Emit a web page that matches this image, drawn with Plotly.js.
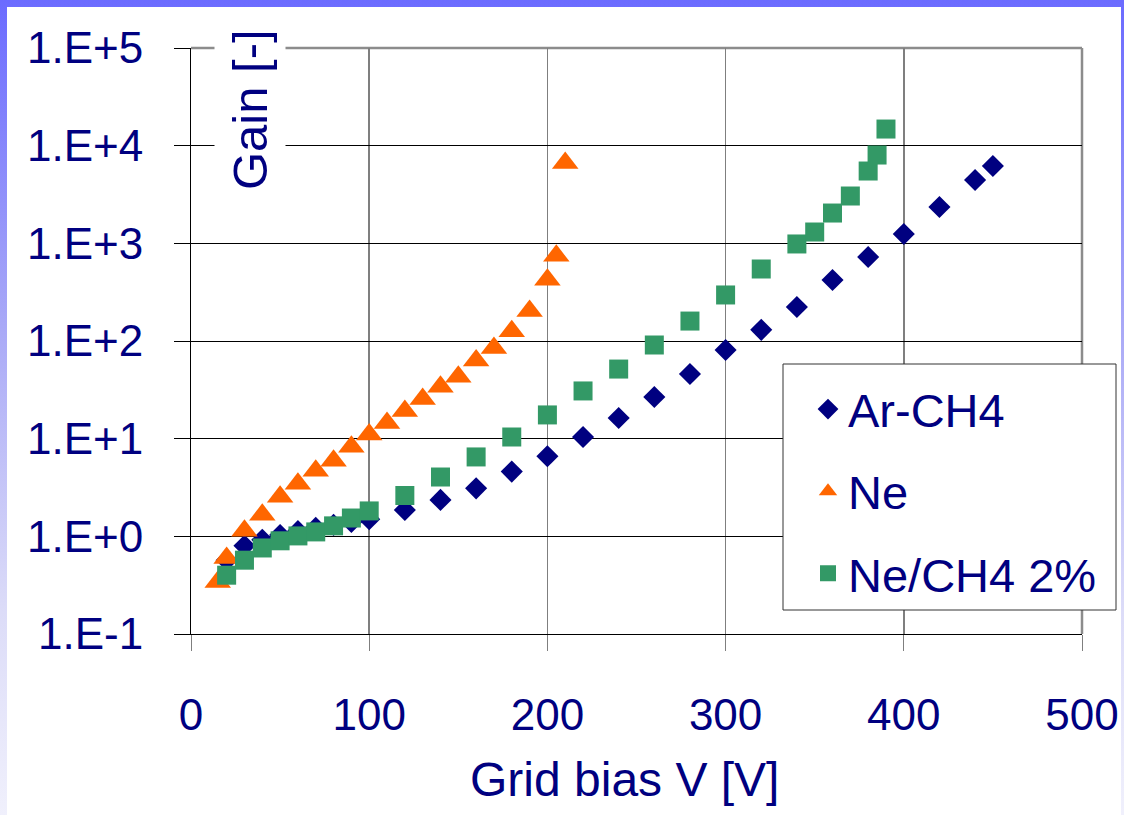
<!DOCTYPE html>
<html>
<head>
<meta charset="utf-8">
<script src="https://cdn.plot.ly/plotly-3.0.1.min.js"></script>
<style>
  html, body { margin: 0; padding: 0; width: 1124px; height: 815px; overflow: hidden; }
  #bg { position: absolute; left: 0; top: 0; width: 1124px; height: 815px;
        background: linear-gradient(to bottom, #6b6bff 0%, #a9a9f7 40%, #dcdcf8 75%, #f0f0fc 100%); }
  #white { position: absolute; left: 7px; top: 7px; width: 1114px; height: 808px; background: #ffffff; }
  #plot { position: absolute; left: 0; top: 0; width: 1124px; height: 815px; }
</style>
</head>
<body>
<div id="bg"></div>
<div id="white"></div>
<div id="plot"></div>
<script>
// ---- Data ----
const arVolts = [20, 30, 40, 50, 60, 70, 80, 90, 100, 120, 140, 160, 180, 200, 220, 240, 260, 280, 300, 320, 340, 360, 380, 400, 420, 440, 450];
const arGain  = [0.57, 0.80, 0.92, 1.03, 1.13, 1.22, 1.31, 1.40, 1.50, 1.86, 2.36, 3.1, 4.6, 6.6, 10.4, 16.3, 26.7, 46, 81, 130, 223, 421, 724, 1245, 2355, 4450, 6200];

const neVolts = [15, 20, 30, 40, 50, 60, 70, 80, 90, 100, 110, 120, 130, 140, 150, 160, 170, 180, 190, 200, 205, 210];
const neGain  = [0.34, 0.60, 1.14, 1.66, 2.55, 3.45, 4.7, 5.95, 8.25, 11.0, 14.5, 19.2, 25.5, 34, 43, 63, 85, 126, 203, 424, 745, 6650];

const mixVolts = [20, 30, 40, 50, 60, 70, 80, 90, 100, 120, 140, 160, 180, 200, 220, 240, 260, 280, 300, 320, 340, 350, 360, 370, 380, 385, 390];
const mixGain  = [0.40, 0.57, 0.76, 0.90, 1.01, 1.11, 1.28, 1.54, 1.82, 2.62, 4.05, 6.5, 10.4, 17.5, 30.8, 51.6, 91, 160, 296, 546, 985, 1306, 2043, 3052, 5500, 8020, 14800];

const seriesNames = ["Ar-CH4", "Ne", "Ne/CH4 2%"];
const yTickVals = [0.1, 1, 10, 100, 1000, 10000, 100000];
const yTickText = ["1.E-1", "1.E+0", "1.E+1", "1.E+2", "1.E+3", "1.E+4", "1.E+5"];
const xTickVals = [0, 100, 200, 300, 400, 500];
const xTitle = "Grid bias V [V]";
const yTitle = "Gain [-]";

// ---- Styling ----
const NAVY = "#000080";
const FONT = "Liberation Sans, Arial, sans-serif";
const FS = 44;

const traces = [
  { x: arVolts, y: arGain, name: seriesNames[0], type: "scatter", mode: "markers",
    legendgroup: "a",
    marker: { symbol: "diamond", size: 17, color: "#000080" } },
  { x: neVolts, y: neGain, name: seriesNames[1], type: "scatter", mode: "markers",
    legendgroup: "b",
    marker: { symbol: "triangle-up", size: 23, color: "#ff6600" } },
  { x: mixVolts, y: mixGain, name: seriesNames[2], type: "scatter", mode: "markers",
    legendgroup: "c",
    marker: { symbol: "square", size: 19, color: "#339966" } }
];

const L = 191, R = 1082, T = 48, B = 634;
const W = 1124, H = 815;
const px2x = p => (p - L) / (R - L);
const px2y = p => (B - p) / (B - T);

const layout = {
  width: W, height: H,
  margin: { l: L, r: W - R, t: T, b: H - B, pad: 0 },
  paper_bgcolor: "rgba(0,0,0,0)",
  plot_bgcolor: "#ffffff",
  font: { family: FONT, size: FS, color: NAVY },
  showlegend: true,
  legend: {
    x: px2x(808), y: px2y(372), xanchor: "left", yanchor: "top",
    bgcolor: "rgba(0,0,0,0)", borderwidth: 0,
    font: { family: FONT, size: 47, color: NAVY },
    tracegroupgap: 18, traceorder: "grouped"
  },
  xaxis: {
    range: [0, 500], tickvals: xTickVals,
    showgrid: true, gridcolor: "#7f7f7f", gridwidth: 1.5,
    zeroline: false,
    showline: true, linecolor: "#000000", linewidth: 1,
    ticks: "outside", ticklen: 16, tickcolor: "#7f7f7f", tickwidth: 1,
    ticklabelstandoff: 26,
    tickfont: { family: FONT, size: FS, color: NAVY },
    fixedrange: true
  },
  yaxis: {
    type: "log", range: [-1, 5],
    tickvals: yTickVals, ticktext: yTickText,
    showgrid: true, gridcolor: "#000000", gridwidth: 1,
    zeroline: false,
    showline: true, linecolor: "#000000", linewidth: 1,
    ticks: "outside", ticklen: 16, tickcolor: "#000000", tickwidth: 1,
    ticklabelstandoff: 22,
    tickfont: { family: FONT, size: FS, color: NAVY },
    fixedrange: true
  },
  shapes: [
    // top and right frame lines (gray)
    { type: "line", xref: "paper", yref: "paper", x0: 0, x1: 1, y0: 1, y1: 1,
      line: { color: "#8c8c8c", width: 2.5 }, layer: "between" },
    { type: "line", xref: "paper", yref: "paper", x0: 1, x1: 1, y0: 0, y1: 1,
      line: { color: "#8c8c8c", width: 2.5 }, layer: "between" },
    // legend box
    { type: "rect", xref: "paper", yref: "paper",
      x0: px2x(783), x1: px2x(1116), y0: px2y(610), y1: px2y(364),
      fillcolor: "#ffffff", line: { color: "#333333", width: 1 }, layer: "above" }
  ],
  annotations: [
    { text: yTitle, xref: "paper", yref: "paper", x: px2x(250), y: px2y(110),
      xanchor: "center", yanchor: "middle", textangle: -90, showarrow: false,
      bgcolor: "#ffffff", borderpad: 8,
      font: { family: FONT, size: 49, color: NAVY } },
    { text: xTitle, xref: "paper", yref: "paper", x: px2x(624), y: px2y(779),
      xanchor: "center", yanchor: "middle", showarrow: false,
      font: { family: FONT, size: 48, color: NAVY } }
  ]
};

Plotly.newPlot("plot", traces, layout, { staticPlot: true, displayModeBar: false });
</script>
</body>
</html>
